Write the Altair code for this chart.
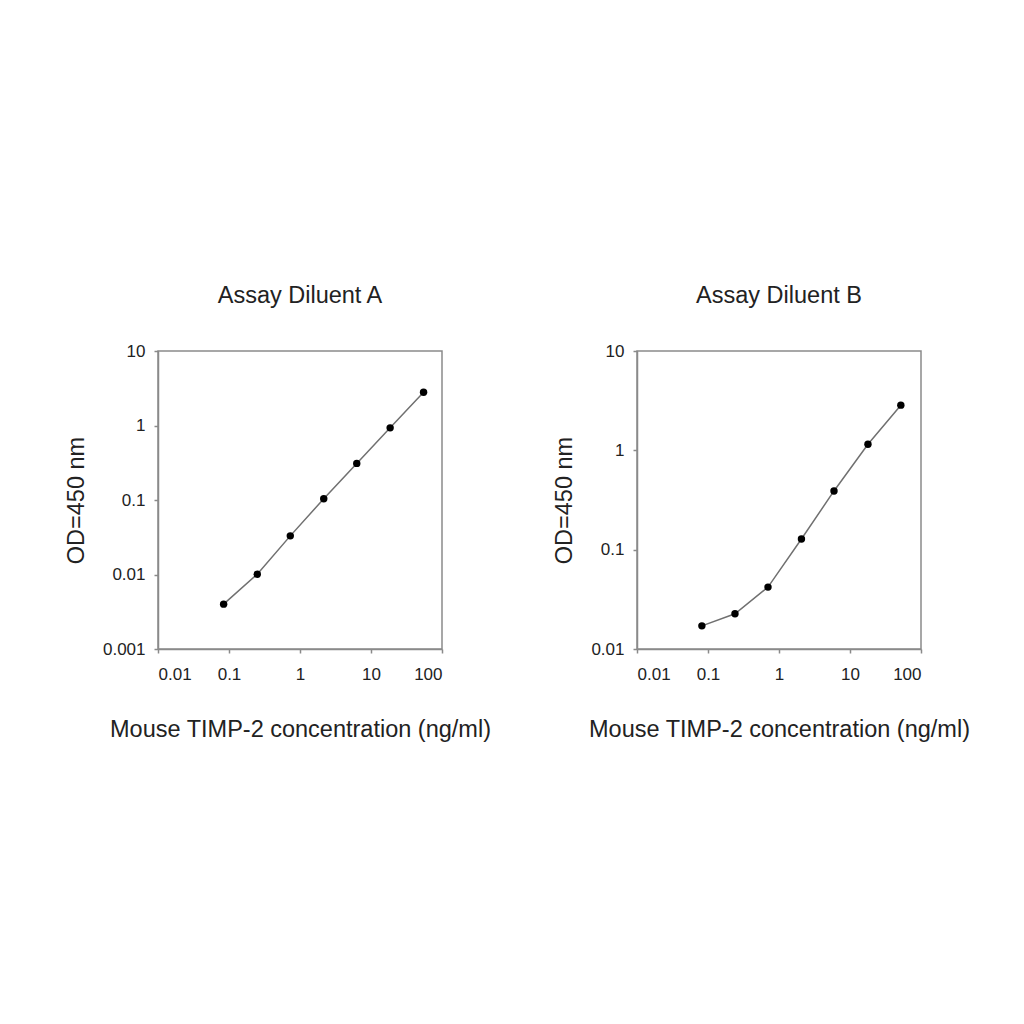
import altair as alt
import pandas as pd

conc_a = [0.084, 0.25, 0.73, 2.16, 6.3, 18.6, 55]
od_a = [0.0040, 0.0101, 0.033, 0.104, 0.31, 0.93, 2.8]
conc_b = [0.082, 0.24, 0.70, 2.07, 5.95, 17.9, 52]
od_b = [0.0171, 0.0226, 0.042, 0.128, 0.39, 1.15, 2.85]

x_ticks = [0.01, 0.1, 1, 10, 100]
y_ticks_a = [0.001, 0.01, 0.1, 1, 10]
y_ticks_b = [0.01, 0.1, 1, 10]

FONT = "Liberation Sans"
GRAY = "#8a8a8a"


def panel(conc, od, title, ydom, yticks):
    df = pd.DataFrame({"conc": conc, "od": od})
    x = alt.X(
        "conc:Q",
        scale=alt.Scale(type="log", domain=[0.01, 100], nice=False),
        axis=alt.Axis(
            values=x_ticks, format="~g", title="Mouse TIMP-2 concentration (ng/ml)",
            grid=False, tickSize=4, labelPadding=13, titlePadding=35,
        ),
    )
    y = alt.Y(
        "od:Q",
        scale=alt.Scale(type="log", domain=ydom, nice=False),
        axis=alt.Axis(
            values=yticks, format="~g", title="OD=450 nm",
            grid=False, tickSize=4, labelPadding=9, titlePadding=14,
        ),
    )
    base = alt.Chart(df)
    line = base.mark_line(color="#707070", strokeWidth=1.5).encode(x=x, y=y)
    pts = base.mark_point(filled=True, color="black", size=55, opacity=1).encode(x=x, y=y)
    return (line + pts).properties(
        width=284, height=298,
        title=alt.TitleParams(title, fontSize=23.5, font=FONT, fontWeight="normal", offset=35, color="#222"),
    )


left = panel(conc_a, od_a, "Assay Diluent A", [0.001, 10], y_ticks_a)
right = panel(conc_b, od_b, "Assay Diluent B", [0.01, 10], y_ticks_b)

chart = alt.hconcat(left, right, spacing=60).properties(
    padding={"left": 55, "top": 274, "right": 5, "bottom": 5}
).configure_view(
    stroke=GRAY, strokeWidth=1.5
).configure_axis(
    domainColor=GRAY, domainWidth=1.5, tickColor=GRAY, tickWidth=1.5,
    labelFont=FONT, labelFontSize=17, labelColor="#222",
    titleFont=FONT, titleFontSize=23.5, titleFontWeight="normal", titleColor="#222",
)

chart.save("out.html", embed_options={"renderer": "svg", "actions": False})
